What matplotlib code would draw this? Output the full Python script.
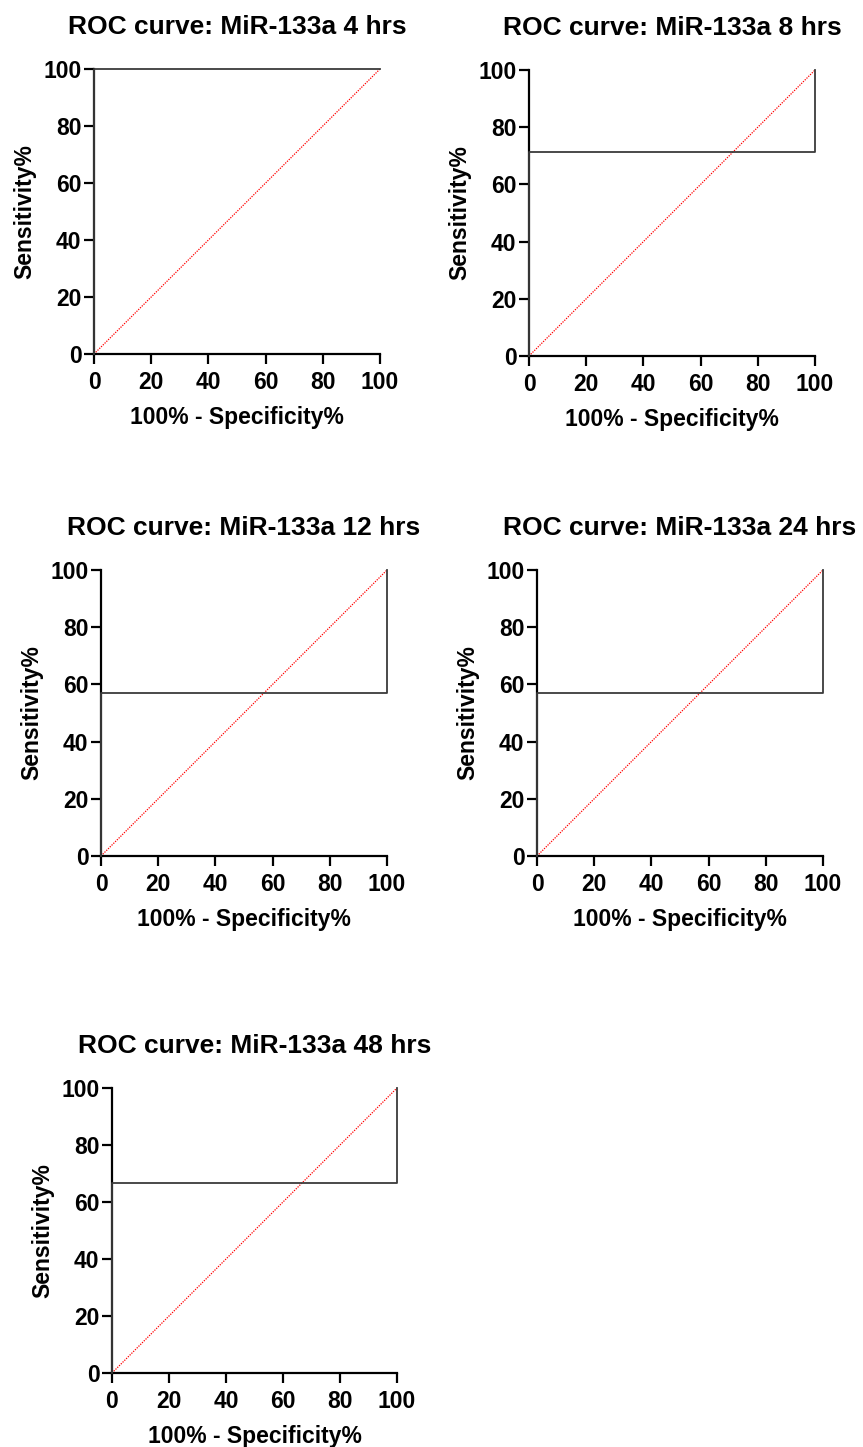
import matplotlib
matplotlib.use("Agg")
import matplotlib.pyplot as plt

plt.rcParams['font.family'] = ['Liberation Sans', 'DejaVu Sans']
plt.rcParams['font.weight'] = 'bold'

# data
titles = ["ROC curve: MiR-133a 4 hrs", "ROC curve: MiR-133a 8 hrs",
          "ROC curve: MiR-133a 12 hrs", "ROC curve: MiR-133a 24 hrs",
          "ROC curve: MiR-133a 48 hrs"]
roc_x = [
    [0, 0, 100],
    [0, 0, 100, 100],
    [0, 0, 100, 100],
    [0, 0, 100, 100],
    [0, 0, 100, 100],
]
roc_y = [
    [0, 100, 100],
    [0, 71.4, 71.4, 100],
    [0, 57.1, 57.1, 100],
    [0, 57.1, 57.1, 100],
    [0, 66.7, 66.7, 100],
]
ref_line = [0, 100]
ticks = [0, 20, 40, 60, 80, 100]

W, H = 863, 1447
# axes boxes in pixels: left, right, top, bottom
boxes = [
    (94, 380, 69, 354),
    (529, 815, 70, 356),
    (101, 387, 570, 856),
    (537, 823, 570, 856),
    (112, 397, 1088, 1373),
]

fig = plt.figure(figsize=(W / 100, H / 100), dpi=100)

for i in range(5):
    l, r, t, b = boxes[i]
    ax = fig.add_axes([l / W, 1 - b / H, (r - l) / W, (b - t) / H])
    ax.plot(ref_line, ref_line, color='red', lw=0.9, ls=(0, (1, 1)), zorder=2)
    ax.plot(roc_x[i], roc_y[i], color='#3a3a3a', lw=1.3, zorder=3, clip_on=False)
    ax.set_xlim(0, 100)
    ax.set_ylim(0, 100)
    ax.set_xticks(ticks)
    ax.set_yticks(ticks)
    for s in ['top', 'right']:
        ax.spines[s].set_visible(False)
    for s in ['left', 'bottom']:
        ax.spines[s].set_linewidth(1.6)
    ax.tick_params(width=1.6, length=7, labelsize=16.5)
    ax.tick_params(axis='x', pad=5)
    ax.tick_params(axis='y', pad=2)
    for lab in ax.get_xticklabels() + ax.get_yticklabels():
        lab.set_fontweight('bold')
    ax.set_xlabel("100% - Specificity%", fontsize=16.5, fontweight='bold', labelpad=9)
    ax.set_ylabel("Sensitivity%", fontsize=16.5, fontweight='bold', labelpad=5)
    ax.set_title(titles[i], fontsize=19, fontweight='bold', pad=25)

fig.savefig("out.png", dpi=100)
